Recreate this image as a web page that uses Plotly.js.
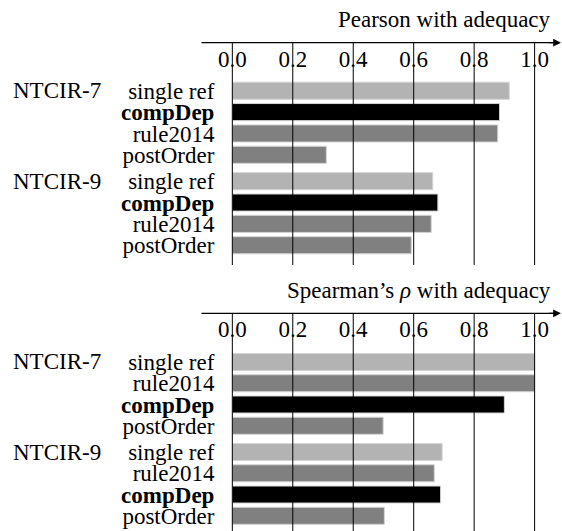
<!DOCTYPE html>
<html>
<head>
<meta charset="utf-8">
<script src="https://cdn.plot.ly/plotly-3.0.1.min.js"></script>
<style>html,body{margin:0;padding:0;background:#fff;}#chart{width:562px;height:531px;}</style>
</head>
<body>
<div id="chart"></div>
<script>
// ---- data ----
const groups = ['NTCIR-7', 'NTCIR-9'];
const pearsonOrder = ['single ref', 'compDep', 'rule2014', 'postOrder'];
const spearmanOrder = ['single ref', 'rule2014', 'compDep', 'postOrder'];

const pearsonSingleRef = [0.916, 0.663];
const pearsonCompDep   = [0.884, 0.680];
const pearsonRule2014  = [0.878, 0.658];
const pearsonPostOrder = [0.311, 0.592];

const spearmanSingleRef = [1.000, 0.694];
const spearmanRule2014  = [1.000, 0.668];
const spearmanCompDep   = [0.900, 0.689];
const spearmanPostOrder = [0.499, 0.503];

const tickVals = [0.0, 0.2, 0.4, 0.6, 0.8, 1.0];
const panelTitles = ['Pearson with adequacy', 'Spearman\u2019s <i>\u03c1</i> with adequacy'];

// ---- styles ----
const W = 562, H = 531;
const FONT = '"Liberation Serif", "Times New Roman", Times, serif';
const FS = 23;
const colors = {'single ref': '#b3b3b3', 'compDep': '#000000', 'rule2014': '#808080', 'postOrder': '#808080'};
const groupGap = 0.235;
const px = v => v / W;
const py = v => 1 - v / H;

function label(m) { return m === 'compDep' ? '<b>compDep</b>' : m; }
function pos(order, m, gi) { return gi * (order.length + groupGap) + order.indexOf(m); }

const panels = [
  {order: pearsonOrder, vals: {'single ref': pearsonSingleRef, 'compDep': pearsonCompDep, 'rule2014': pearsonRule2014, 'postOrder': pearsonPostOrder},
   xa: 'x', ya: 'y', top: 42.7, bottom: 265, titleY: 20, yr: [8.16, -2.25]},
  {order: spearmanOrder, vals: {'single ref': spearmanSingleRef, 'rule2014': spearmanRule2014, 'compDep': spearmanCompDep, 'postOrder': spearmanPostOrder},
   xa: 'x2', ya: 'y2', top: 313.3, bottom: 531, titleY: 291, yr: [7.95, -2.29]}
];

const traces = [];
const shapes = [];
const annotations = [];
const layout = {
  width: W, height: H,
  margin: {l: 0, r: 0, t: 0, b: 0},
  paper_bgcolor: '#fff', plot_bgcolor: '#fff',
  showlegend: false, barmode: 'overlay',
  font: {family: FONT, size: FS, color: '#000'}
};

panels.forEach((p, pi) => {
  p.order.forEach(m => {
    traces.push({
      type: 'bar', orientation: 'h', name: m,
      x: p.vals[m],
      y: groups.map((g, gi) => pos(p.order, m, gi)),
      width: 0.8,
      marker: {color: colors[m], line: {color: '#d4d4d4', width: 1}},
      xaxis: p.xa, yaxis: p.ya, hoverinfo: 'x'
    });
  });
  const tv = [], tt = [];
  groups.forEach((g, gi) => p.order.forEach(m => { tv.push(pos(p.order, m, gi)); tt.push(label(m)); }));
  const xkey = pi === 0 ? 'xaxis' : 'xaxis2';
  const ykey = pi === 0 ? 'yaxis' : 'yaxis2';
  layout[xkey] = {
    domain: [px(229), px(560)], range: [-0.011, 1.084], anchor: p.ya, side: 'top',
    tickvals: tickVals, tickformat: '.1f', ticks: '', ticklabelposition: 'inside',
    ticklabelstandoff: 5,
    ticklabeloverflow: 'allow', showgrid: false, zeroline: false, showline: false,
    tickfont: {family: FONT, size: FS, color: '#000'}, fixedrange: true
  };
  layout[ykey] = {
    domain: [py(p.bottom), py(p.top)], range: p.yr, anchor: p.xa,
    tickvals: tv, ticktext: tt, ticks: 'outside', ticklen: 9, tickcolor: 'rgba(0,0,0,0)',
    showgrid: false, zeroline: false, showline: false,
    tickfont: {family: FONT, size: FS, color: '#000'}, fixedrange: true
  };
  // grid lines above bars
  tickVals.forEach(v => shapes.push({type: 'line', xref: p.xa, yref: p.ya + ' domain', x0: v, x1: v, y0: 0, y1: 1,
    line: {color: '#000', width: 1}, layer: 'above'}));
  // axis arrow line
  shapes.push({type: 'line', xref: 'paper', yref: p.ya + ' domain', x0: px(201.5), x1: px(556), y0: 1, y1: 1,
    line: {color: '#000', width: 1.2}, layer: 'above'});
  annotations.push({xref: 'paper', yref: p.ya + ' domain', x: px(561.5), y: 1, ax: -14, ay: 0, text: '',
    showarrow: true, arrowhead: 2, arrowsize: 1.3, arrowwidth: 1.2, arrowcolor: '#000'});
  // panel title
  annotations.push({xref: 'paper', yref: 'paper', x: px(553), y: py(p.titleY), xanchor: 'right', yanchor: 'middle',
    text: panelTitles[pi], showarrow: false, font: {family: FONT, size: FS, color: '#000'}});
  // group labels
  groups.forEach((g, gi) => annotations.push({xref: 'paper', yref: p.ya, x: px(11), y: pos(p.order, p.order[0], gi),
    xanchor: 'left', yanchor: 'middle', text: g, showarrow: false, font: {family: FONT, size: FS, color: '#000'}}));
});

layout.shapes = shapes;
layout.annotations = annotations;

Plotly.newPlot('chart', traces, layout, {displayModeBar: false, staticPlot: true});
</script>
</body>
</html>
